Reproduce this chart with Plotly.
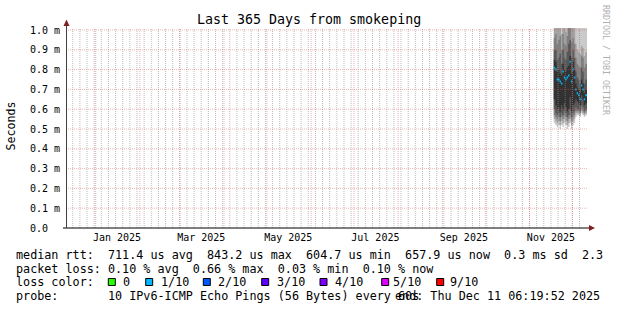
import plotly.graph_objects as go
import pandas as pd

# ---------------- data ----------------
START = "2024-12-11 06:19:52"
END = "2025-12-11 06:19:52"

days = ["2025-11-18", "2025-11-19", "2025-11-20", "2025-11-21", "2025-11-22",
        "2025-11-23", "2025-11-24", "2025-11-25", "2025-11-26", "2025-11-27",
        "2025-11-28", "2025-11-29", "2025-11-30", "2025-12-01", "2025-12-02",
        "2025-12-03", "2025-12-04", "2025-12-05", "2025-12-06", "2025-12-07",
        "2025-12-08", "2025-12-09", "2025-12-10"]

# median rtt (ms)
median = [0.81, 0.80, 0.75, 0.75, 0.74, 0.73, 0.79, 0.76, 0.75, 0.76, 0.77, 0.84,
          0.74, 0.80, 0.76, 0.70, 0.68, 0.67, 0.65, 0.72, 0.70, 0.65, 0.67]

# sorted ping values (ms), rank 1 (fastest) .. rank 10 (slowest), clipped at graph top
ping1 = [0.53, 0.52, 0.51, 0.52, 0.50, 0.52, 0.51, 0.53, 0.52, 0.50, 0.51, 0.53,
         0.50, 0.52, 0.53, 0.56, 0.57, 0.57, 0.56, 0.58, 0.57, 0.56, 0.57]
ping2 = [0.55, 0.54, 0.53, 0.54, 0.52, 0.54, 0.53, 0.55, 0.54, 0.52, 0.53, 0.55,
         0.52, 0.54, 0.55, 0.58, 0.58, 0.58, 0.57, 0.59, 0.58, 0.57, 0.58]
ping3 = [0.57, 0.56, 0.55, 0.56, 0.54, 0.56, 0.55, 0.57, 0.56, 0.54, 0.55, 0.57,
         0.54, 0.56, 0.57, 0.59, 0.59, 0.59, 0.58, 0.60, 0.59, 0.58, 0.59]
ping4 = [0.60, 0.58, 0.57, 0.58, 0.56, 0.58, 0.57, 0.59, 0.58, 0.56, 0.57, 0.60,
         0.56, 0.58, 0.59, 0.61, 0.60, 0.60, 0.59, 0.62, 0.61, 0.59, 0.60]
ping5 = [0.65, 0.62, 0.60, 0.61, 0.59, 0.62, 0.60, 0.63, 0.61, 0.59, 0.60, 0.66,
         0.59, 0.62, 0.63, 0.65, 0.64, 0.63, 0.62, 0.67, 0.65, 0.62, 0.63]
ping6 = [0.85, 0.84, 0.79, 0.80, 0.78, 0.77, 0.83, 0.80, 0.79, 0.81, 0.82, 0.87,
         0.78, 0.84, 0.80, 0.73, 0.71, 0.70, 0.68, 0.75, 0.73, 0.68, 0.70]
ping7 = [0.90, 0.90, 0.85, 0.86, 0.88, 0.83, 0.90, 0.86, 0.85, 0.89, 0.93, 0.95,
         0.86, 0.90, 0.86, 0.79, 0.76, 0.75, 0.73, 0.81, 0.79, 0.73, 0.75]
ping8 = [0.96, 0.98, 0.93, 0.95, 0.97, 0.90, 0.98, 0.93, 0.92, 0.97, 1.01, 1.01,
         0.94, 0.96, 0.93, 0.86, 0.83, 0.82, 0.81, 0.87, 0.86, 0.81, 0.83]
ping9 = [1.01, 1.01, 1.01, 1.01, 1.01, 0.98, 1.01, 1.01, 0.99, 1.01, 1.01, 1.01,
         1.01, 1.01, 1.01, 0.93, 0.90, 0.89, 0.88, 0.92, 0.91, 0.87, 0.89]
ping10 = [1.01] * 23

# axis ticks / grid
month_starts = ["2025-01-01", "2025-02-01", "2025-03-01", "2025-04-01", "2025-05-01",
                "2025-06-01", "2025-07-01", "2025-08-01", "2025-09-01", "2025-10-01",
                "2025-11-01", "2025-12-01"]
xlabel_pos = ["2025-01-16", "2025-03-16", "2025-05-16", "2025-07-16", "2025-09-16", "2025-11-16"]
xlabel_text = ["Jan 2025", "Mar 2025", "May 2025", "Jul 2025", "Sep 2025", "Nov 2025"]
ytick_vals = [0.0, 0.1, 0.2, 0.3, 0.4, 0.5, 0.6, 0.7, 0.8, 0.9, 1.0]
ytick_text = ["0.0\u00a0\u00a0", "0.1 m", "0.2 m", "0.3 m", "0.4 m", "0.5 m",
              "0.6 m", "0.7 m", "0.8 m", "0.9 m", "1.0 m"]

loss_labels = ["0", "1/10", "2/10", "3/10", "4/10", "5/10", "9/10"]
loss_colors = ["#26ff00", "#00b8ff", "#0059ff", "#5e00ff", "#7e00ff", "#dd00ff", "#ff0000"]

legend_lines = [
    "median rtt:  711.4 us avg  843.2 us max  604.7 us min  657.9 us now  0.3 ms sd  2.3",
    "packet loss: 0.10 % avg  0.66 % max  0.03 % min  0.10 % now",
    "loss color:",
    "probe:       10 IPv6-ICMP Echo Pings (56 Bytes) every 60s",
]
end_text = "end: Thu Dec 11 06:19:52 2025"

# ---------------- geometry ----------------
W, H = 617, 310
L, R, T, B = 66, 30, 28, 82
PW, PH = W - L - R, H - T - B
YMAX = 1.0101
FONT = "DejaVu Sans Mono"


def xp(px):
    return (px - L) / PW


def yp(py):
    return (H - B - py) / PH


fig = go.Figure()

xe = list(days) + [END]


def ext(a):
    return list(a) + [a[-1]]


pings = [ping1, ping2, ping3, ping4, ping5, ping6, ping7, ping8, ping9, ping10]
shades = ["#cacaca", "#a4a4a4", "#7e7e7e", "#585858", "#323232"]
for i in range(5):
    lo, hi = pings[i], pings[9 - i]
    fig.add_trace(go.Scatter(x=xe, y=ext(lo), mode="lines", line=dict(width=0, shape="hv"),
                             hoverinfo="skip", showlegend=False))
    fig.add_trace(go.Scatter(x=xe, y=ext(hi), mode="lines", line=dict(width=0, shape="hv"),
                             fill="tonexty", fillcolor=shades[i], hoverinfo="skip", showlegend=False))

# median drawn as a thin band coloured by loss (1/10 bin)
sw = 0.005
fig.add_trace(go.Scatter(x=xe, y=ext([m - sw for m in median]), mode="lines",
                         line=dict(width=0, shape="hv"), hoverinfo="skip", showlegend=False))
fig.add_trace(go.Scatter(x=xe, y=ext([m + sw for m in median]), mode="lines",
                         line=dict(width=0, shape="hv"), fill="tonexty", fillcolor=loss_colors[1],
                         hoverinfo="skip", showlegend=False))

# ---------------- grid (drawn above data like rrdtool) ----------------
shapes = []
GRID = "rgba(143,143,143,0.6)"
MGRID = "rgba(222,79,79,0.42)"
minor_days = pd.date_range("2024-12-16", "2025-12-10", freq="5D")
for d in minor_days:
    ds = d.strftime("%Y-%m-%d")
    shapes.append(dict(type="line", xref="x", yref="y", x0=ds, x1=ds, y0=0, y1=YMAX, layer="above",
                       line=dict(color=GRID, width=1, dash="1px,1px")))
for d in month_starts:
    shapes.append(dict(type="line", xref="x", yref="y", x0=d, x1=d, y0=0, y1=YMAX, layer="above",
                       line=dict(color=MGRID, width=1, dash="1px,1px")))
for v in ytick_vals[1:]:
    shapes.append(dict(type="line", xref="x", yref="y", x0=START, x1=END, y0=v, y1=v, layer="above",
                       line=dict(color=MGRID, width=1, dash="1px,1px")))

# ---------------- axes lines & arrows ----------------
shapes += [
    dict(type="line", xref="paper", yref="paper", x0=xp(63), x1=xp(590), y0=yp(228), y1=yp(228),
         line=dict(color="#000000", width=1)),
    dict(type="line", xref="paper", yref="paper", x0=xp(66.5), x1=xp(66.5), y0=yp(228), y1=yp(25),
         line=dict(color="#404040", width=1)),
    dict(type="path", xref="paper", yref="paper",
         path=f"M {xp(66.5)},{yp(19.5)} L {xp(63.5)},{yp(26)} L {xp(69.5)},{yp(26)} Z",
         fillcolor="#801f1f", line=dict(width=0)),
    dict(type="path", xref="paper", yref="paper",
         path=f"M {xp(595)},{yp(228)} L {xp(589)},{yp(225)} L {xp(589)},{yp(231)} Z",
         fillcolor="#801f1f", line=dict(width=0)),
]

# legend colour boxes
box_x = [108.3, 145.7, 203.3, 261.7, 320.0, 381.7, 436.7]
lab_x = [123.3, 160.7, 218.0, 276.7, 335.0, 393.0, 450.0]
for bx, c in zip(box_x, loss_colors):
    shapes.append(dict(type="rect", xref="paper", yref="paper", x0=xp(bx), x1=xp(bx + 7),
                       y0=yp(278.5), y1=yp(285.5), fillcolor=c, line=dict(color="#000000", width=1)))

ann = []


def text(s, x, y, size, anchor="left", angle=0, color="#000000"):
    ann.append(dict(text=s.replace(" ", "\u00a0"), x=xp(x), y=yp(y), xref="paper", yref="paper",
                    xanchor=anchor, yanchor="middle", showarrow=False, textangle=angle,
                    borderpad=0, borderwidth=0,
                    font=dict(family=FONT, size=size, color=color)))


text("Last 365 Days from smokeping", 308.5, 19, 13.3, anchor="center")
text("Seconds", 10.5, 126, 11.6, anchor="center", angle=-90)
text("RRDTOOL / TOBI OETIKER", 606, 60, 8.3, anchor="center", angle=90, color="#b0b0b0")
ly = [255, 268.5, 282.3, 296]
for s, y in zip(legend_lines, ly):
    text(s, 16, y, 11.75)
for lx, s in zip(lab_x, loss_labels):
    text(s, lx, ly[2], 11.75)
text(end_text, 395, ly[3], 11.75)

fig.update_layout(
    width=W, height=H,
    margin=dict(l=L, r=R, t=T, b=B, pad=0),
    paper_bgcolor="#ffffff", plot_bgcolor="#ffffff",
    showlegend=False, hovermode=False,
    shapes=shapes, annotations=ann,
    xaxis=dict(type="date", range=[START, END], showgrid=False, zeroline=False, showline=False,
               tickmode="array", tickvals=xlabel_pos, ticktext=xlabel_text, ticks="",
               ticklabelstandoff=2,
               tickfont=dict(family=FONT, size=10, color="#000000"), fixedrange=True),
    yaxis=dict(range=[0, YMAX], showgrid=False, zeroline=False, showline=False,
               tickmode="array", tickvals=ytick_vals, ticktext=ytick_text, ticks="",
               ticklabelstandoff=5,
               tickfont=dict(family=FONT, size=10, color="#000000"), fixedrange=True),
)

fig.write_html("out.html", config={"displayModeBar": False})
